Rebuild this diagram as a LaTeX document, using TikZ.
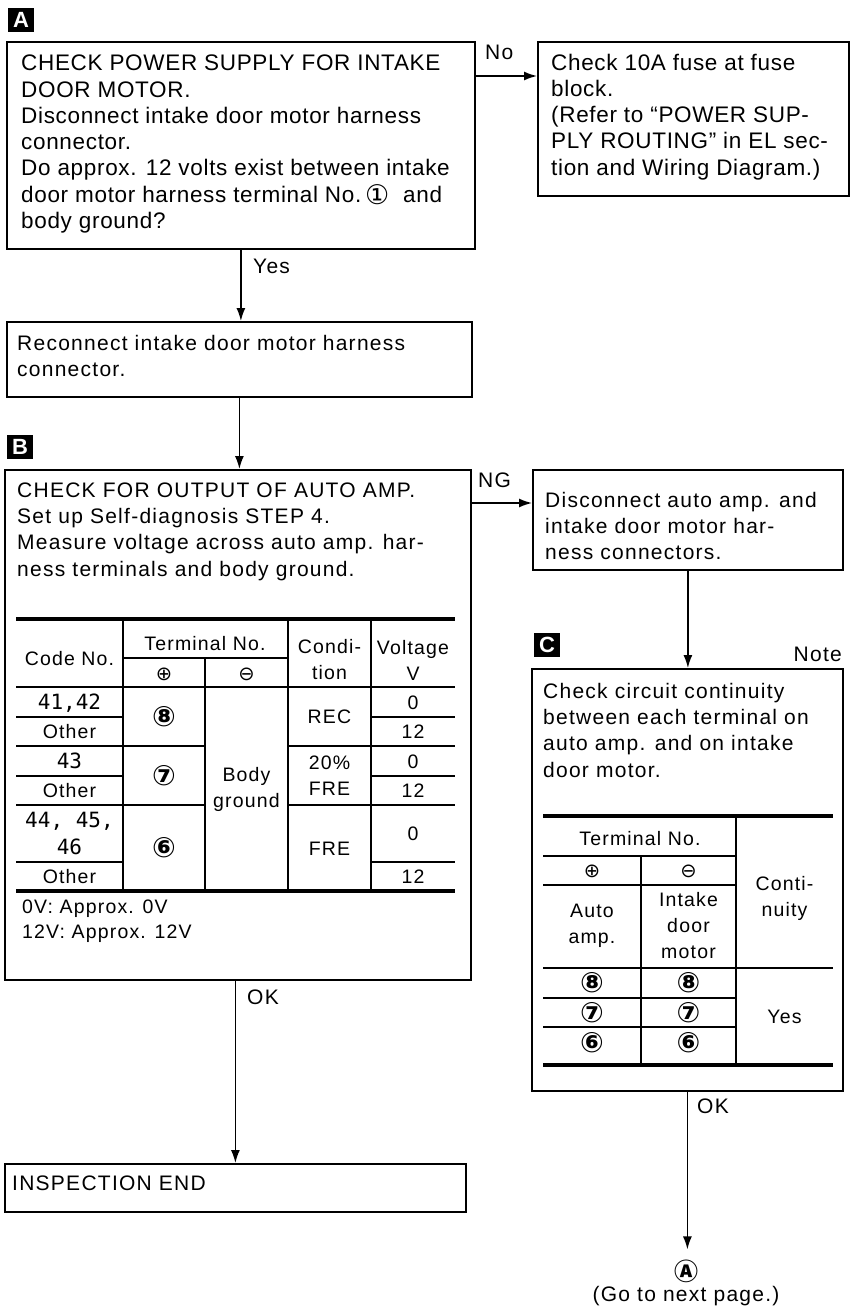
\documentclass[tikz,border=0pt]{standalone}
\usepackage{fontspec}
\setmainfont{Liberation Sans}
\newfontfamily\symf{DejaVu Sans}
\newfontfamily\cjkf{Noto Sans CJK JP}
\newfontfamily\segf{DejaVu Sans Mono}
\newfontfamily\bodyA[LetterSpace=3]{Liberation Sans}
\newfontfamily\bodyB[LetterSpace=6]{Liberation Sans}
\usetikzlibrary{arrows.meta}
\tikzset{
  box/.style={draw, line width=1.8pt, rectangle, inner sep=0pt, anchor=north west},
  txtA/.style={anchor=base west, inner sep=0pt, align=left, font=\bodyA\fontsize{22.5}{26.3}\selectfont},
  txtB/.style={anchor=base west, inner sep=0pt, align=left, font=\bodyB\fontsize{21}{26.4}\selectfont},
  lbl/.style={anchor=base west, inner sep=0pt, font=\bodyB\fontsize{21}{25}\selectfont},
  tag/.style={fill=black, text=white, minimum width=26pt, minimum height=24pt, inner sep=0pt, font=\fontsize{22}{22}\selectfont\bfseries},
  arr/.style={line width=1.5pt, -{Latex[length=13pt,width=9pt]}},
  cell/.style={anchor=center, inner sep=0pt, text height=14pt, text depth=0pt, font=\bodyB\fontsize{19.5}{25}\selectfont},
  mcell/.style={anchor=center, inner sep=0pt, align=center, font=\bodyB\fontsize{19.5}{26}\selectfont},
  seg/.style={cell, font=\segf\fontsize{21}{25}\selectfont},
  cnum/.style={anchor=center, inner sep=0pt, font=\symf\bfseries\fontsize{28}{28}\selectfont},
  thin/.style={line width=1.5pt},
  thick/.style={line width=3.5pt},
}
\begin{document}
\begin{tikzpicture}[x=1pt,y=-1pt]
\useasboundingbox (0,0) rectangle (853,1311);
\fill[white] (0,0) rectangle (853,1311);

% ---------- section A ----------
\node[tag] (tagA) at (21,20) {A};
\node[box, minimum width=468pt, minimum height=207pt] (boxA) at (6,41) {};
% base anchor = last line baseline
\node[txtA] (txtA) at (21,228.5) {CHECK POWER SUPPLY FOR INTAKE\\
DOOR MOTOR.\\
Disconnect intake door motor harness\\
connector.\\
Do approx. 12 volts exist between intake\\
door motor harness terminal No.\,\raisebox{-2.5pt}{\symf\fontsize{27}{26.3}\selectfont ①}\ \ and\\
body ground?};

\node[box, minimum width=311pt, minimum height=154pt] (fuse) at (537,41) {};
\node[txtA] (txtFuse) at (551,175.2) {Check 10A fuse at fuse\\
block.\\
(Refer to “POWER SUP-\\
PLY ROUTING” in EL sec-\\
tion and Wiring Diagram.)};

\coordinate (yNo) at (500,76);
\draw[arr] (boxA.east |- yNo) -- (fuse.west |- yNo);
\node[lbl] (lNo) at (485,60) {No};

\node[box, minimum width=465pt, minimum height=75pt] (recon) at (6,321) {};
\node[txtB] (txtRecon) at (17,376.4) {Reconnect intake door motor harness\\connector.};

\draw[arr] (boxA.south) -- (boxA.south |- recon.north);
\node[lbl] (lYes) at (253,273) {Yes};

% ---------- section B ----------
\node[tag] (tagB) at (20,447) {B};
\node[box, minimum width=466pt, minimum height=510pt] (boxB) at (4,469) {};
\draw[arr] (recon.south) -- (recon.south |- boxB.north);
\node[txtB] (txtB) at (17,576.2) {CHECK FOR OUTPUT OF AUTO AMP.\\
Set up Self-diagnosis STEP 4.\\
Measure voltage across auto amp. har-\\
ness terminals and body ground.};

% table B rules
\draw[thick] (16,619) -- (455,619);
\draw[thick] (16,891) -- (455,891);
\draw[thin] (123,619) -- (123,891);
\draw[thin] (205,658) -- (205,891);
\draw[thin] (288,619) -- (288,891);
\draw[thin] (371,619) -- (371,891);
\draw[thin] (123,658) -- (288,658);
\draw[thin] (16,687) -- (455,687);
\draw[thin] (16,717) -- (123,717) (371,717) -- (455,717);
\draw[thin] (16,746) -- (205,746) (288,746) -- (455,746);
\draw[thin] (16,776) -- (123,776) (371,776) -- (455,776);
\draw[thin] (16,805) -- (205,805) (288,805) -- (455,805);
\draw[thin] (16,862) -- (123,862) (371,862) -- (455,862);

% table B header
\node[cell] (bCode) at (69.5,658) {Code No.};
\node[cell] (bTerm) at (205,643) {Terminal No.};
\node[cell] (bPlus) at (164,673) {\symf ⊕};
\node[cell] (bMinus) at (246.5,673) {\symf ⊖};
\node[mcell] (bCond) at (329.5,660) {Condi-\\tion};
\node[mcell] (bVolt) at (413,660) {Voltage\\V};
% table B body
\node[seg] (c1) at (69.5,702) {41,42};
\node[cell] (c2) at (69.5,731.5) {Other};
\node[seg] (c3) at (69.5,761) {43};
\node[cell] (c4) at (69.5,790.5) {Other};
\node[mcell, font=\segf\fontsize{21}{27}\selectfont] (c5) at (69.5,833.5) {44, 45,\\46};
\node[cell] (c6) at (69.5,876.5) {Other};
\node[cnum] (p8) at (164,716.5) {⑧};
\node[cnum] (p7) at (164,775.5) {⑦};
\node[cnum] (p6) at (164,848) {⑥};
\node[mcell] (mBody) at (246.5,789) {Body\\ground};
\node[cell] (k1) at (329.5,716.5) {REC};
\node[mcell] (k2) at (329.5,776) {20\%\\FRE};
\node[cell] (k3) at (329.5,848) {FRE};
\node[cell] (v1) at (413,702) {0};
\node[cell] (v2) at (413,731.5) {12};
\node[cell] (v3) at (413,761) {0};
\node[cell] (v4) at (413,790.5) {12};
\node[cell] (v5) at (413,833.5) {0};
\node[cell] (v6) at (413,876.5) {12};

\node[anchor=base west, inner sep=0pt, align=left, font=\bodyB\fontsize{19.5}{25}\selectfont] (bNote) at (22,938) {0V: Approx. 0V\\12V: Approx. 12V};

% NG branch
\node[box, minimum width=310pt, minimum height=100pt] (disc) at (532,469) {};
\node[txtB] (txtDisc) at (545,559.8) {Disconnect auto amp. and\\
intake door motor har-\\
ness connectors.};
\coordinate (yNG) at (500,503);
\draw[arr] (boxB.east |- yNG) -- (disc.west |- yNG);
\node[lbl] (lNG) at (478,487) {NG};

% ---------- section C ----------
\node[tag] (tagC) at (547,645) {C};
\node[lbl, anchor=base east] (lNote) at (842,661) {Note};
\node[box, minimum width=311pt, minimum height=422pt] (boxC) at (531,668) {};
\draw[arr] (disc.south) -- (disc.south |- boxC.north);
\node[txtB] (txtC) at (543,777.2) {Check circuit continuity\\
between each terminal on\\
auto amp. and on intake\\
door motor.};

% table C rules
\draw[thick] (543,816) -- (833,816);
\draw[thick] (543,1065) -- (833,1065);
\draw[thin] (641,856) -- (641,1065);
\draw[thin] (736,816) -- (736,1065);
\draw[thin] (543,856) -- (736,856);
\draw[thin] (543,885) -- (736,885);
\draw[thin] (543,968) -- (833,968);
\draw[thin] (543,998) -- (736,998);
\draw[thin] (543,1027) -- (736,1027);

\node[cell] (cTerm) at (640,838) {Terminal No.};
\node[cell] (cPlus) at (592,870.5) {\symf ⊕};
\node[cell] (cMinus) at (688.5,870.5) {\symf ⊖};
\node[mcell] (cAuto) at (592,926) {Auto\\amp.};
\node[mcell] (cIntake) at (688.5,926) {Intake\\door\\motor};
\node[mcell] (cCont) at (784.5,898) {Conti-\\nuity};
\node[cnum] (a8) at (592,983) {⑧};
\node[cnum] (i8) at (688.5,983) {⑧};
\node[cnum] (a7) at (592,1012.5) {⑦};
\node[cnum] (i7) at (688.5,1012.5) {⑦};
\node[cnum] (a6) at (592,1043) {⑥};
\node[cnum] (i6) at (688.5,1043) {⑥};
\node[cell] (cYes) at (784.5,1016) {Yes};

% ---------- ends ----------
\node[box, minimum width=461pt, minimum height=48pt] (endbox) at (4,1163) {};
\node[txtB] (txtEnd) at (12,1190) {INSPECTION END};
\draw[arr] (endbox.north |- boxB.south) -- (endbox.north);
\node[lbl] (lOK1) at (247,1004) {OK};

\node[anchor=center, inner sep=0pt, font=\cjkf\bfseries\fontsize{24}{24}\selectfont] (goA) at (686,1271) {Ⓐ};
\draw[arr, shorten >=10pt] (boxC.south) -- (boxC.south |- goA.north);
\node[lbl] (lOK2) at (697,1113) {OK};
\node[anchor=base, inner sep=0pt, font=\bodyB\fontsize{21}{25}\selectfont] (goNext) at (686,1301) {(Go to next page.)};
\end{tikzpicture}
\end{document}
